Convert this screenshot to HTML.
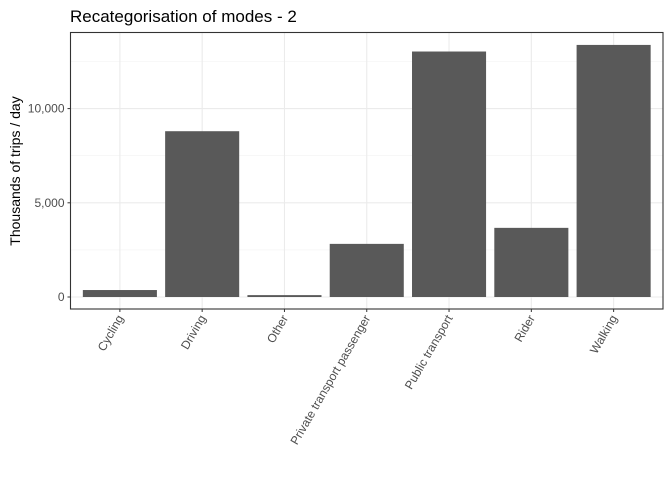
<!DOCTYPE html>
<html><head><meta charset="utf-8"><style>
body{margin:0;background:#fff;font-family:"Liberation Sans",sans-serif;}
</style></head><body>
<svg width="672" height="480" id="c" xmlns="http://www.w3.org/2000/svg">
<rect width="672" height="480" fill="#fff"/>
<text x="70" y="22" font-size="17" fill="#000">Recategorisation of modes - 2</text>
<text transform="translate(20,171) rotate(-90)" text-anchor="middle" font-size="14" fill="#000">Thousands of trips / day</text>
<g id="g"></g>
</svg>
<script>
const categories=["Cycling","Driving","Other","Private transport passenger","Public transport","Rider","Walking"];
const values=[370,8800,100,2820,13030,3670,13380];
const yTicks=[0,5000,10000];
const yTickLabels=["0","5,000","10,000"];
const yMinor=[2500,7500,12500];
const L=70.5,R=663,T=32.5,B=309;
const step=(R-L)/7.2;
function x(i){return L+(0.6+i)*step;}
function y(v){return 297-v*94.2/5000;}
const g=document.getElementById('g');
const NS="http://www.w3.org/2000/svg";
function mk(t,a){const e=document.createElementNS(NS,t);for(const k in a)e.setAttribute(k,a[k]);g.appendChild(e);return e;}
yMinor.forEach(v=>{const e=mk('line',{x1:L,x2:R,y1:y(v),y2:y(v),stroke:'#f2f2f2','stroke-width':0.6});

});
yTicks.forEach((v,i)=>{const e=mk('line',{x1:L,x2:R,y1:y(v),y2:y(v),stroke:'#ebebeb','stroke-width':1.1});


const t=mk('line',{x1:L-3,x2:L,y1:y(v),y2:y(v),stroke:'#333','stroke-width':1});


const l=mk('text',{x:L-6,y:y(v)+4,'text-anchor':'end','font-size':12,fill:'#4d4d4d'});
l.textContent=yTickLabels[i];

});
categories.forEach((c,i)=>{const e=mk('line',{x1:x(i),x2:x(i),y1:T,y2:B,stroke:'#ebebeb','stroke-width':1.1});

});
categories.forEach((c,i)=>{const w=step*0.9;const b=mk('rect',{x:x(i)-w/2,y:Math.min(y(values[i]),y(0)),width:w,height:Math.abs(y(0)-y(values[i])),fill:'#595959'});


const t=mk('line',{x1:x(i),x2:x(i),y1:B,y2:B+3,stroke:'#333','stroke-width':1});


const l=mk('text',{transform:`translate(${x(i)+4},${B+9}) rotate(-60)`,'text-anchor':'end','font-size':12,fill:'#4d4d4d'});
l.textContent=c;

});
const f=mk('rect',{x:L,y:T,width:R-L,height:B-T,fill:'none',stroke:'#333','stroke-width':1.1});


</script>
</body></html>
